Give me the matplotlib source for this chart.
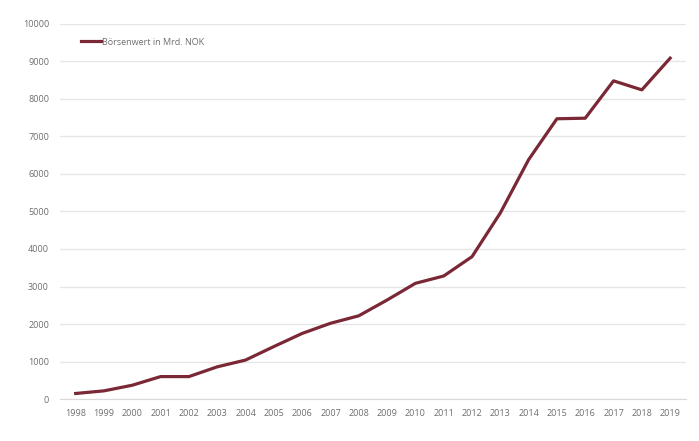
import matplotlib
matplotlib.use('Agg')
import matplotlib.pyplot as plt

years = [str(y) for y in range(1998, 2020)]
boersenwert = [150, 220, 370, 600, 600, 860, 1040, 1400, 1750, 2020, 2220,
               2640, 3085, 3280, 3795, 4960, 6380, 7470, 7485, 8480, 8240, 9085]
series_label = 'Börsenwert in Mrd. NOK'
yticks = list(range(0, 10001, 1000))

plt.rcParams['font.family'] = ['Open Sans', 'DejaVu Sans']

fig = plt.figure(figsize=(6.99, 4.41), dpi=100)
ax = fig.add_axes([0.086, 0.095, 0.895, 0.851])

x = list(range(len(years)))
ax.plot(x, boersenwert, color='#7a2836', lw=2.3, label=series_label, solid_joinstyle='round')

ax.set_xlim(-0.55, len(years) - 0.45)
ax.set_ylim(0, 10000)
ax.set_yticks(yticks)
ax.set_yticklabels([str(v) for v in yticks])
ax.set_xticks(x)
ax.set_xticklabels(years)
ax.tick_params(axis='both', length=0, labelsize=6.5, labelcolor='#6e6e6e')
ax.tick_params(axis='x', pad=7)
ax.tick_params(axis='y', pad=8)

ax.grid(axis='y', color='#e6e6e6', lw=1)
ax.set_axisbelow(True)
for s in ['top', 'right', 'left']:
    ax.spines[s].set_visible(False)
ax.spines['bottom'].set_color('#d9d9d9')

leg = ax.legend(loc='upper left', bbox_to_anchor=(0.02, 0.985), frameon=False,
                fontsize=6.5, handlelength=2.2, handletextpad=0.1)
for t in leg.get_texts():
    t.set_color('#6e6e6e')

fig.savefig('out.png', dpi=100, facecolor='white')
